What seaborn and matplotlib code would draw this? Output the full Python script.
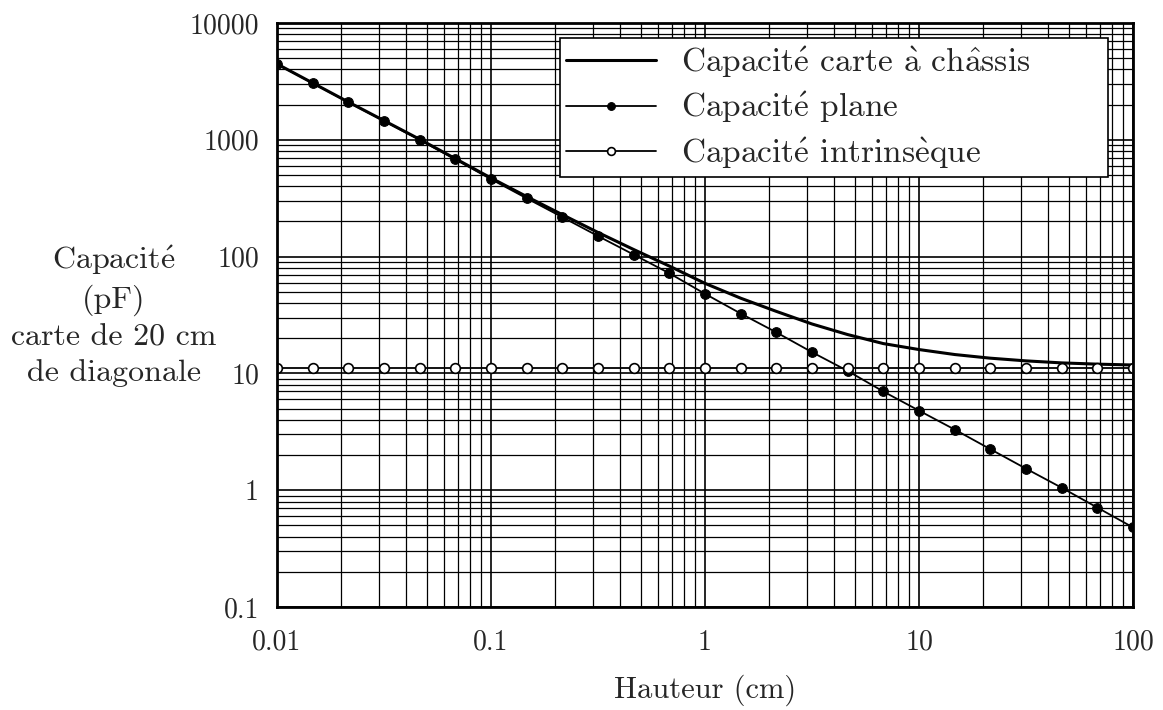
import numpy as np
import pandas as pd
import matplotlib
matplotlib.use('Agg')
import matplotlib.pyplot as plt
import seaborn as sns
from matplotlib.ticker import LogLocator, FixedLocator, NullFormatter

# hauteur (cm), 6 points par decade
hauteur = [0.01, 0.0147, 0.0215, 0.0316, 0.0464, 0.0681,
           0.1, 0.147, 0.215, 0.316, 0.464, 0.681,
           1, 1.47, 2.15, 3.16, 4.64, 6.81,
           10, 14.7, 21.5, 31.6, 46.4, 68.1, 100]

# capacites (pF)
c_plane = [4450, 3050, 2100, 1450, 1000, 680,
           460, 315, 218, 150, 104, 72,
           48, 32.5, 22.5, 15.2, 10.5, 7.0,
           4.8, 3.3, 2.25, 1.53, 1.05, 0.71, 0.48]
c_intr = [11.1] * 25
c_total = [4460, 3060, 2110, 1460, 1010, 690,
           471, 326, 229, 161, 115, 83,
           59, 44, 34, 26.5, 21.5, 18.0,
           16.0, 14.5, 13.5, 12.8, 12.3, 12.0, 11.8]

xticks = [0.01, 0.1, 1, 10, 100]
xlabels = ['0.01', '0.1', '1', '10', '100']
yticks = [0.1, 1, 10, 100, 1000, 10000]
ylabels = ['0.1', '1', '10', '100', '1000', '10000']

# accents via mathtext (cmr10 n'a pas les lettres accentuees)
E_AIGU = r'$\acute{\mathrm{e}}$'
E_GRAVE = r'$\grave{\mathrm{e}}$'
A_GRAVE = r'$\grave{\mathrm{a}}$'
A_CIRC = r'$\hat{\mathrm{a}}$'

lab_total = 'Capacit' + E_AIGU + ' carte ' + A_GRAVE + ' ch' + A_CIRC + 'ssis'
lab_plane = 'Capacit' + E_AIGU + ' plane'
lab_intr = 'Capacit' + E_AIGU + ' intrins' + E_GRAVE + 'que'

df = pd.DataFrame({'h': hauteur, 'plane': c_plane, 'intr': c_intr, 'total': c_total})

sns.set_style('white')
plt.rcParams['font.family'] = ['cmr10', 'DejaVu Serif']
plt.rcParams['mathtext.fontset'] = 'cm'
plt.rcParams['axes.unicode_minus'] = False

fig = plt.figure(figsize=(11.63, 7.10), dpi=100)
ax = fig.add_axes([0.2382, 0.1451, 0.7360, 0.8225])

sns.lineplot(data=df, x='h', y='total', ax=ax, color='black', lw=2.2,
             label=lab_total)
sns.lineplot(data=df, x='h', y='plane', ax=ax, color='black', lw=1.3,
             marker='o', markersize=7, markerfacecolor='black', markeredgecolor='black',
             label=lab_plane)
sns.lineplot(data=df, x='h', y='intr', ax=ax, color='black', lw=1.3,
             marker='o', markersize=7, markerfacecolor='white', markeredgecolor='black',
             markeredgewidth=1.2, label=lab_intr)

ax.set_xscale('log')
ax.set_yscale('log')
ax.set_xlim(0.01, 100)
ax.set_ylim(0.1, 10000)

ax.xaxis.set_major_locator(FixedLocator(xticks))
ax.set_xticklabels(xlabels)
ax.yaxis.set_major_locator(FixedLocator(yticks))
ax.set_yticklabels(ylabels)
ax.xaxis.set_minor_locator(LogLocator(base=10, subs=np.arange(2, 10), numticks=20))
ax.yaxis.set_minor_locator(LogLocator(base=10, subs=np.arange(2, 10), numticks=20))
ax.xaxis.set_minor_formatter(NullFormatter())
ax.yaxis.set_minor_formatter(NullFormatter())

ax.grid(True, which='major', color='black', lw=1.2)
ax.grid(True, which='minor', color='black', lw=0.9)
ax.set_axisbelow(True)
ax.tick_params(which='both', length=0, labelsize=20)
ax.tick_params(axis='x', pad=16)
ax.tick_params(axis='y', pad=13)

for s in ax.spines.values():
    s.set_color('black')
    s.set_linewidth(2)

ax.set_xlabel('Hauteur (cm)', fontsize=22, labelpad=14)
ax.set_ylabel('Capacit' + E_AIGU + '\n(pF)\ncarte de 20 cm\nde diagonale', fontsize=23,
              rotation=0, ha='center', va='center', linespacing=1.35)
ax.yaxis.set_label_coords(-0.191, 0.5)

leg = ax.legend(loc='upper left', bbox_to_anchor=(0.331, 0.0, 0.640, 0.974),
                mode='expand', fontsize=24,
                frameon=True, fancybox=False, handlelength=2.7, borderpad=0.18,
                borderaxespad=0, labelspacing=0.3, handletextpad=0.75,
                markerscale=0.8)
leg.get_frame().set_edgecolor('black')
leg.get_frame().set_linewidth(1.2)
leg.get_frame().set_alpha(1)

fig.savefig('out.png', dpi=100)
